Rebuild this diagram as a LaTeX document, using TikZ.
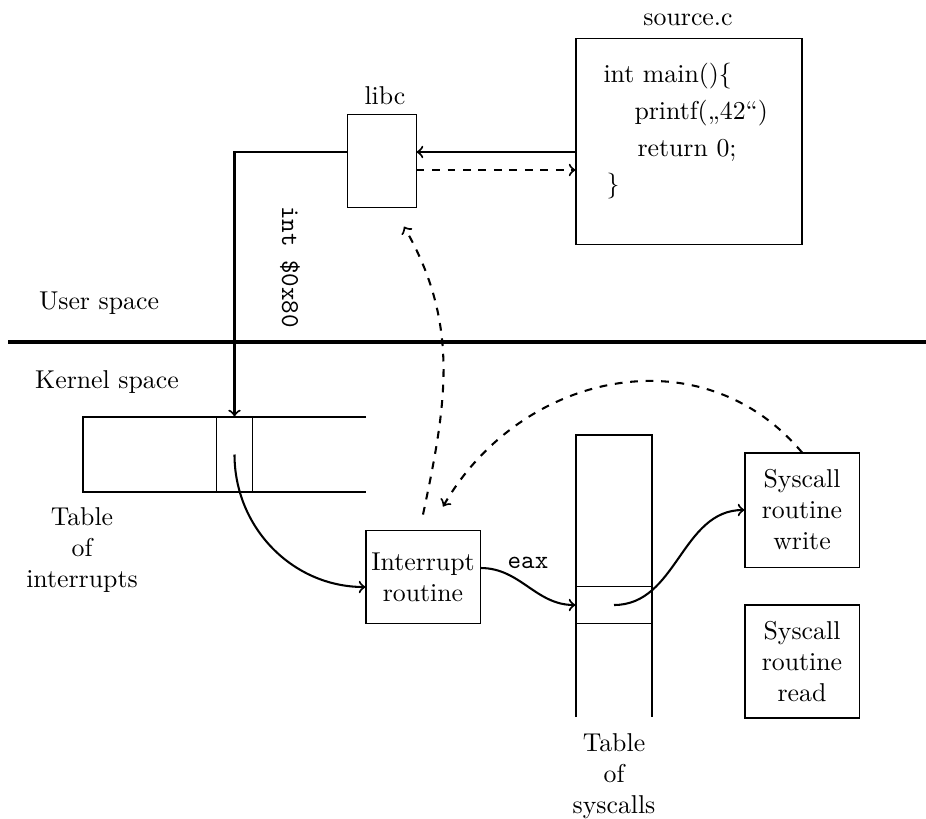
\documentclass[tikz,border=0pt]{standalone}
\usetikzlibrary{calc}
\begin{document}
\begin{tikzpicture}[x=0.3876pt,y=0.3876pt,
  box/.style={draw,line width=0.4pt,inner sep=0pt,align=center},
  arr/.style={thick,->},
  darr/.style={thick,dashed,->},
  lbl/.style={inner sep=0pt}]
\useasboundingbox (0,0) rectangle (926,-819);

% boxes
\node[box,minimum width=87.6pt,minimum height=80.2pt] (src) at (689,-141.5) {};
\node[lbl,anchor=base] (srclbl) at (688,-26) {source.c};
\node[lbl,anchor=base west] (c1) at (603,-83) {int main()\{};
\node[lbl,anchor=base west] (c2) at (634,-120) {printf(„42“)};
\node[lbl,anchor=base west] (c3) at (637,-157) {return 0;};
\node[lbl,anchor=base west] (c4) at (606,-193) {\}};

\node[box,minimum width=26.4pt,minimum height=36.4pt] (libc) at (382,-161) {};
\node[lbl,anchor=base] (libclbl) at (385,-105) {libc};

% separator
\draw[line width=1.8pt] (8,-342) -- (926,-342);
\node[lbl,anchor=base] (user) at (99,-309) {User space};
\node[lbl,anchor=base] (kernel) at (107,-388) {Kernel space};

% interrupt table
\draw[line width=0.4pt] (366,-417) -- (83,-417) -- (83,-492) -- (366,-492);
\node[box,minimum width=14.3pt,minimum height=29.1pt] (icell) at (234.5,-454.5) {};
\node[align=center] (itbl) at (82,-550) {Table\\of\\interrupts};

% interrupt routine
\node[box,minimum width=44.2pt,minimum height=36.4pt] (irq) at (423,-577) {Interrupt\\routine};

% syscall table
\draw[line width=0.4pt] (576,-717) -- (576,-435) -- (652,-435) -- (652,-717);
\node[box,minimum width=29.5pt,minimum height=14.7pt] (scell) at (614,-605) {};
\node[align=center] (stbl) at (614,-776) {Table\\of\\syscalls};

% syscall routines
\node[box,minimum width=44.2pt,minimum height=44.2pt] (write) at (802,-510) {Syscall\\routine\\write};
\node[box,minimum width=44.2pt,minimum height=43.8pt] (read) at (802,-661.5) {Syscall\\routine\\read};

% connectors
\coordinate (l1) at ([yshift=3.49pt]libc.east);
\coordinate (l2) at ([yshift=-3.49pt]libc.east);
\coordinate (l3) at ([yshift=3.49pt]libc.west);
\draw[arr] (l1 -| src.west) -- (l1);
\draw[darr] (l2) -- (l2 -| src.west);
\draw[arr] (l3) -| (icell.north);
\node[rotate=-90,font=\ttfamily] (int) at (290,-267) {int \$0x80};

\draw[arr] (icell.center) to[out=-90,in=180] ([yshift=-3.88pt]irq.west);
\draw[arr] ([yshift=3.49pt]irq.east) to[out=0,in=180]
  node[midway,above=3pt,font=\ttfamily] (eax) {eax} (scell.west);
\draw[arr] (scell.center) to[out=0,in=180] (write.west);

\coordinate (q1) at ([yshift=5.8pt]irq.north);
\coordinate (q2) at ([xshift=7.75pt,yshift=8.9pt]irq.north);
\coordinate (lb) at ([xshift=8.5pt,yshift=-7pt]libc.south);
\draw[darr] (q1) to[out=78,in=-60] (lb);
\draw[darr] (write.north) to[out=130,in=60,looseness=1.1] (q2);
\end{tikzpicture}
\end{document}
